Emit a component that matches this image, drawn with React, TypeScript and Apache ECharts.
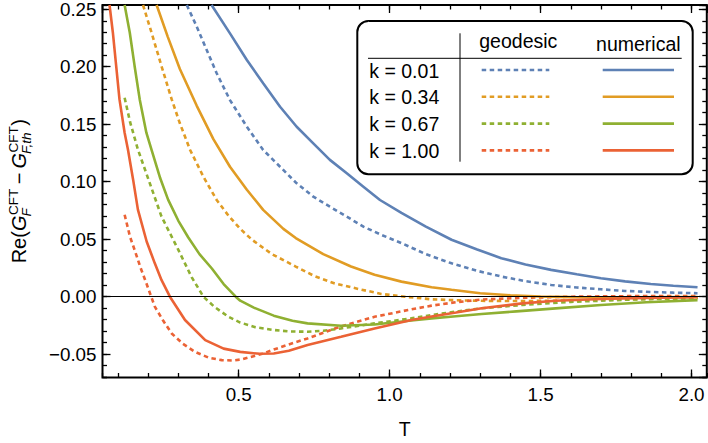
import React, { useEffect, useRef } from "react";
import * as echarts from "echarts";

// ---- axis ranges / ticks ----
const X_RANGE = [0.0487, 2.0507];
const Y_RANGE = [-0.0703, 0.2537];
const X_MAJOR = 0.5;
const X_MINOR = 0.1;
const Y_MAJOR = 0.05;
const Y_MINOR = 0.01;

// ---- legend ----
const K_LABELS = ["k = 0.01", "k = 0.34", "k = 0.67", "k = 1.00"];
const COLUMN_TITLES = ["geodesic", "numerical"];
const COLORS = ["#5E81B5", "#E19C24", "#8FB032", "#EB6235"];

// ---- data: [T, Re(...)] ----
const geoK001 = [
  [0.328, 0.2537], [0.361, 0.2348], [0.394, 0.2145], [0.427, 0.1943], [0.471, 0.171],
  [0.527, 0.1478], [0.581, 0.1276], [0.637, 0.113], [0.692, 0.0986], [0.747, 0.087],
  [0.802, 0.0783], [0.858, 0.0696], [0.913, 0.0609], [0.975, 0.0535], [1.039, 0.0466],
  [1.12, 0.037], [1.205, 0.029], [1.29, 0.0225], [1.37, 0.0175], [1.45, 0.0135],
  [1.535, 0.0102], [1.62, 0.008], [1.7, 0.0064], [1.78, 0.005], [1.865, 0.0041],
  [1.94, 0.0035], [2.02, 0.003],
];
const numK001 = [
  [0.41, 0.2537], [0.471, 0.229], [0.527, 0.2058], [0.581, 0.1856], [0.637, 0.1652],
  [0.692, 0.1478], [0.747, 0.1334], [0.802, 0.119], [0.858, 0.1073], [0.913, 0.0957],
  [0.968, 0.0841], [1.039, 0.0728], [1.12, 0.061], [1.205, 0.0495], [1.29, 0.041],
  [1.37, 0.0335], [1.45, 0.028], [1.535, 0.0233], [1.62, 0.0195], [1.7, 0.016],
  [1.78, 0.0133], [1.865, 0.011], [1.94, 0.0095], [2.02, 0.0082],
];
const geoK034 = [
  [0.183, 0.2537], [0.211, 0.2298], [0.244, 0.2007], [0.278, 0.1716], [0.305, 0.1508],
  [0.339, 0.1276], [0.383, 0.1043], [0.427, 0.0841], [0.466, 0.0705], [0.505, 0.059],
  [0.544, 0.0495], [0.61, 0.037], [0.689, 0.0262], [0.75, 0.018], [0.816, 0.0117],
  [0.9, 0.0065], [0.972, 0.0024], [1.05, 0.0], [1.139, -0.0023], [1.22, -0.0031],
  [1.305, -0.0036], [1.45, -0.0038], [1.6, -0.0033], [1.8, -0.0022], [2.02, -0.0012],
];
const numK034 = [
  [0.228, 0.2537], [0.265, 0.226], [0.305, 0.198], [0.361, 0.166], [0.416, 0.137],
  [0.471, 0.113], [0.527, 0.093], [0.581, 0.0755], [0.648, 0.059], [0.689, 0.051],
  [0.78, 0.037], [0.872, 0.0262], [0.95, 0.019], [1.039, 0.0131], [1.139, 0.0082],
  [1.205, 0.006], [1.3, 0.003], [1.4, 0.0012], [1.5, 0.0002], [1.6, -0.0004],
  [1.8, -0.0005], [2.02, -0.0003],
];
const geoK067 = [
  [0.122, 0.173], [0.14, 0.152], [0.166, 0.128], [0.205, 0.099], [0.244, 0.0698],
  [0.3, 0.0407], [0.344, 0.017], [0.383, 0.0], [0.42, -0.009], [0.466, -0.0175],
  [0.505, -0.0225], [0.555, -0.0265], [0.616, -0.029], [0.666, -0.0302], [0.728, -0.0305],
  [0.78, -0.0297], [0.839, -0.0276], [0.95, -0.0232], [1.072, -0.0189], [1.139, -0.016],
  [1.22, -0.013], [1.305, -0.0101], [1.44, -0.0072], [1.6, -0.0045], [1.8, -0.0025],
  [2.02, -0.0012],
];
const numK067 = [
  [0.122, 0.2537], [0.139, 0.2298], [0.155, 0.2007], [0.172, 0.1716], [0.194, 0.1426],
  [0.211, 0.128], [0.24, 0.103], [0.266, 0.0844], [0.3, 0.066], [0.333, 0.0515],
  [0.37, 0.037], [0.411, 0.0245], [0.45, 0.011], [0.49, 0.0], [0.505, -0.0035],
  [0.55, -0.0095], [0.616, -0.0165], [0.678, -0.021], [0.728, -0.0232], [0.839, -0.0253],
  [0.95, -0.0242], [1.072, -0.0207], [1.139, -0.0189], [1.22, -0.017], [1.305, -0.0151],
  [1.42, -0.0128], [1.55, -0.0102], [1.7, -0.0072], [1.85, -0.0048], [2.02, -0.003],
];
const geoK100 = [
  [0.122, 0.0713], [0.14, 0.052], [0.155, 0.0407], [0.175, 0.025], [0.194, 0.0117],
  [0.21, 0.0], [0.222, -0.0087], [0.25, -0.021], [0.278, -0.032], [0.315, -0.041],
  [0.355, -0.048], [0.4, -0.053], [0.444, -0.0552], [0.48, -0.0555], [0.511, -0.0545],
  [0.578, -0.0497], [0.616, -0.046], [0.689, -0.0395], [0.728, -0.0363], [0.839, -0.0258],
  [0.95, -0.0175], [1.061, -0.0116], [1.139, -0.0078], [1.22, -0.0048], [1.305, -0.0025],
  [1.44, -0.001], [1.6, 0.0], [1.8, 0.0005], [2.02, 0.0005],
];
const numK100 = [
  [0.072, 0.2537], [0.083, 0.2298], [0.094, 0.2007], [0.105, 0.1716], [0.122, 0.1426],
  [0.133, 0.128], [0.15, 0.102], [0.166, 0.0757], [0.195, 0.048], [0.222, 0.029],
  [0.244, 0.0146], [0.272, 0.0], [0.322, -0.0203], [0.389, -0.0378], [0.45, -0.0452],
  [0.505, -0.048], [0.57, -0.0497], [0.616, -0.0494], [0.666, -0.047], [0.728, -0.0421],
  [0.839, -0.0349], [0.95, -0.0276], [1.072, -0.0203], [1.139, -0.0172], [1.22, -0.0138],
  [1.305, -0.0101], [1.44, -0.0058], [1.55, -0.0035], [1.7, -0.002], [1.85, -0.001],
  [2.02, -0.0005],
];

const GEODESIC = [geoK001, geoK034, geoK067, geoK100];
const NUMERICAL = [numK001, numK034, numK067, numK100];

// ---- layout ----
const W = 708;
const H = 443;
const GRID = { left: 102.5, top: 5, right: 1.2, bottom: 65.5 };
const FONT = '"Liberation Sans", Arial, sans-serif';
const DASH = [4.5, 3.5];
const LINE_W = 2.6;

function measure(text: string, size: number, italic: boolean): number {
  const c = document.createElement("canvas").getContext("2d");
  if (!c) return text.length * size * 0.55;
  c.font = `${italic ? "italic " : ""}${size}px "Liberation Sans"`;
  return c.measureText(text).width;
}

function buildYLabel() {
  const MAIN = 20;
  const SMALL = 13.5;
  const segs: any[] = [
    { t: "Re(" },
    { t: "G", it: true },
    { sup: "CFT", sub: "F" },
    { t: "\u2009\u2212\u2009" },
    { t: "G", it: true },
    { sup: "CFT", sub: "F,th" },
    { t: ")" },
  ];
  const children: any[] = [];
  let x = 0;
  for (const s of segs) {
    if (s.t) {
      children.push({
        type: "text", x, y: 0,
        style: { text: s.t, fontSize: MAIN, fontFamily: FONT, fontStyle: s.it ? "italic" : "normal", fill: "#000", align: "left", verticalAlign: "middle" },
      });
      x += measure(s.t, MAIN, !!s.it);
    } else {
      children.push({
        type: "text", x: x + 0.5, y: -6,
        style: { text: s.sup, fontSize: SMALL, fontFamily: FONT, fill: "#000", align: "left", verticalAlign: "middle" },
      });
      children.push({
        type: "text", x: x - 1, y: 7,
        style: { text: s.sub, fontSize: SMALL, fontFamily: FONT, fontStyle: "italic", fill: "#000", align: "left", verticalAlign: "middle" },
      });
      x += Math.max(measure(s.sup, SMALL, false), measure(s.sub, SMALL, true)) + 1;
    }
  }
  const total = x;
  children.forEach((c) => (c.x -= total / 2));
  const cy = GRID.top + (H - GRID.top - GRID.bottom) / 2;
  return { type: "group", x: 19, y: cy, rotation: Math.PI / 2, children, z: 100 };
}

function buildLegend() {
  const els: any[] = [];
  const box = { x: 357.3, y: 21, w: 335.4, h: 153.3 };
  els.push({ type: "rect", shape: { x: box.x, y: box.y, width: box.w, height: box.h, r: 11 }, style: { fill: "#fff", stroke: "#000", lineWidth: 2 }, z: 100 });
  els.push({ type: "line", shape: { x1: 368, y1: 58.3, x2: 681.7, y2: 58.3 }, style: { stroke: "#000", lineWidth: 1 }, z: 101 });
  els.push({ type: "line", shape: { x1: 460, y1: 33.3, x2: 460, y2: 161.7 }, style: { stroke: "#000", lineWidth: 1 }, z: 101 });
  els.push({ type: "text", x: 518.3, y: 40.5, style: { text: COLUMN_TITLES[0], fontSize: 19.5, fontFamily: FONT, fill: "#000", align: "center", verticalAlign: "middle" }, z: 101 });
  els.push({ type: "text", x: 638.3, y: 43.5, style: { text: COLUMN_TITLES[1], fontSize: 19.5, fontFamily: FONT, fill: "#000", align: "center", verticalAlign: "middle" }, z: 101 });
  const rowY = [70.5, 97.3, 124.1, 150.9];
  K_LABELS.forEach((lab, i) => {
    els.push({ type: "text", x: 369.3, y: rowY[i], style: { text: lab, fontSize: 19.5, fontFamily: FONT, fill: "#000", align: "left", verticalAlign: "middle" }, z: 101 });
    els.push({ type: "line", shape: { x1: 481.7, y1: rowY[i] - 0.5, x2: 549.3, y2: rowY[i] - 0.5 }, style: { stroke: COLORS[i], lineWidth: LINE_W, lineDash: DASH }, z: 101 });
    els.push({ type: "line", shape: { x1: 602.7, y1: rowY[i] - 0.5, x2: 674, y2: rowY[i] - 0.5 }, style: { stroke: COLORS[i], lineWidth: LINE_W }, z: 101 });
  });
  return els;
}

function xAxis(position: string, interval: number, tickLen: number, labels: boolean) {
  return {
    type: "value", position, min: X_RANGE[0], max: X_RANGE[1],
    minInterval: interval, maxInterval: interval,
    splitNumber: Math.round((X_RANGE[1] - X_RANGE[0]) / interval),
    axisLine: { show: false, onZero: false },
    splitLine: { show: false },
    axisTick: { show: true, inside: true, length: tickLen, lineStyle: { color: "#000", width: 1.3 } },
    axisLabel: {
      show: labels, showMinLabel: false, showMaxLabel: false, margin: 7,
      color: "#000", fontSize: 18.8, fontFamily: FONT,
      formatter: (v: number) => v.toFixed(1),
    },
  };
}
function yAxis(position: string, interval: number, tickLen: number, labels: boolean) {
  return {
    type: "value", position, min: Y_RANGE[0], max: Y_RANGE[1],
    minInterval: interval, maxInterval: interval,
    splitNumber: Math.round((Y_RANGE[1] - Y_RANGE[0]) / interval),
    axisLine: { show: false, onZero: false },
    splitLine: { show: false },
    axisTick: { show: true, inside: true, length: tickLen, lineStyle: { color: "#000", width: 1.3 } },
    axisLabel: {
      show: labels, showMinLabel: false, showMaxLabel: false, margin: 6,
      color: "#000", fontSize: 18.8, fontFamily: FONT,
      formatter: (v: number) => (v < -1e-9 ? "\u2212" : "") + Math.abs(v).toFixed(2),
    },
  };
}

export default function App() {
  const ref = useRef<HTMLDivElement>(null);
  useEffect(() => {
    if (!ref.current) return;
    const chart = echarts.init(ref.current, null, { renderer: "svg" });
    const series: any[] = [];
    GEODESIC.forEach((d, i) => {
      series.push({
        type: "line", name: `geodesic ${K_LABELS[i]}`, data: d, xAxisIndex: 0, yAxisIndex: 0,
        showSymbol: false, symbol: "none", silent: true, clip: true,
        lineStyle: { color: COLORS[i], width: LINE_W, type: DASH },
        itemStyle: { color: COLORS[i] }, z: 3,
        ...(i === 0
          ? { markLine: { silent: true, symbol: "none", label: { show: false }, lineStyle: { color: "#000", width: 1, type: "solid" }, data: [{ yAxis: 0 }] } }
          : {}),
      });
    });
    NUMERICAL.forEach((d, i) => {
      series.push({
        type: "line", name: `numerical ${K_LABELS[i]}`, data: d, xAxisIndex: 0, yAxisIndex: 0,
        showSymbol: false, symbol: "none", silent: true, clip: true,
        lineStyle: { color: COLORS[i], width: LINE_W },
        itemStyle: { color: COLORS[i] }, z: 3,
      });
    });
    const cx = GRID.left + (W - GRID.left - GRID.right) / 2;
    chart.setOption({
      animation: false,
      backgroundColor: "#fff",
      grid: { ...GRID, show: true, borderColor: "#000", borderWidth: 2, backgroundColor: "transparent", containLabel: false, outerBoundsMode: "none" },
      xAxis: [
        xAxis("bottom", X_MAJOR, 8, true),
        xAxis("bottom", X_MINOR, 4.5, false),
        xAxis("top", X_MAJOR, 8, false),
        xAxis("top", X_MINOR, 4.5, false),
      ],
      yAxis: [
        yAxis("left", Y_MAJOR, 8, true),
        yAxis("left", Y_MINOR, 4.5, false),
        yAxis("right", Y_MAJOR, 8, false),
        yAxis("right", Y_MINOR, 4.5, false),
      ],
      series,
      graphic: [
        buildYLabel(),
        { type: "text", x: cx, y: 429, style: { text: "T", fontSize: 19.5, fontFamily: FONT, fill: "#000", align: "center", verticalAlign: "middle" }, z: 100 },
        ...buildLegend(),
      ],
    });
    return () => chart.dispose();
  }, []);
  return <div ref={ref} style={{ position: "absolute", left: 0, top: 0, width: W, height: H }} />;
}
